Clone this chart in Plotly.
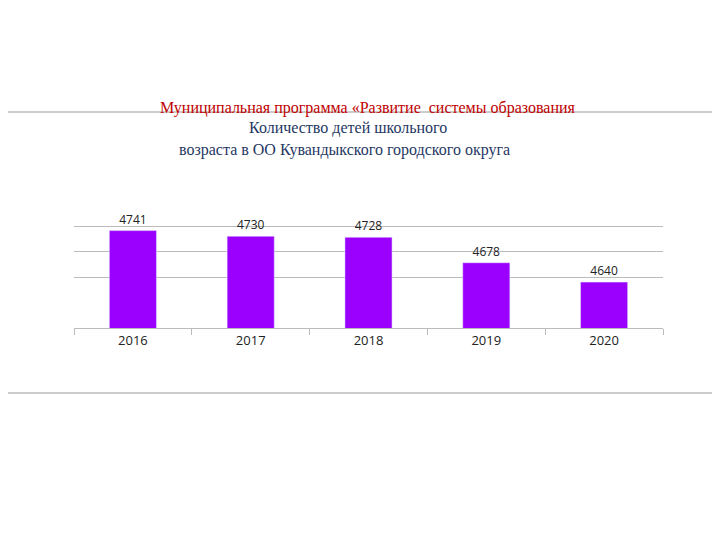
import plotly.graph_objects as go

years = ["2016", "2017", "2018", "2019", "2020"]
values = [4741, 4730, 4728, 4678, 4640]

fig = go.Figure(go.Bar(
    x=years, y=values, marker_color="#9B00FF", width=0.4,
    text=[str(v) for v in values], textposition="outside",
    textfont=dict(family="Open Sans", size=12, color="#222"), cliponaxis=False))

fig.update_layout(
    width=720, height=540, paper_bgcolor="white", plot_bgcolor="white",
    margin=dict(l=66, r=65, t=217, b=220), showlegend=False,
    xaxis=dict(type="category", showline=True, linecolor="#bbb", ticks="outside",
               tickson="boundaries", ticklen=6, tickcolor="#bbb",
               tickfont=dict(family="Open Sans", size=13, color="#222")),
    yaxis=dict(range=[4550, 4752], tickvals=[4650, 4700, 4750], showticklabels=False,
               showgrid=True, gridcolor="#bbb", zeroline=False),
    shapes=[dict(type="line", xref="paper", yref="paper", x0=-0.2, x1=1.2,
                 y0=1 + (217 - 104) / 103, y1=1 + (217 - 104) / 103, line=dict(color="#999", width=1)),
            dict(type="line", xref="paper", yref="paper", x0=-0.2, x1=1.2,
                 y0=-(385 - 320) / 103, y1=-(385 - 320) / 103, line=dict(color="#999", width=1))],
    annotations=[
        dict(text="Муниципальная программа «Развитие  системы образования", x=360, y=100,
             xref="paper", yref="paper", showarrow=False),
        dict(text="Количество детей школьного", x=340, y=120, showarrow=False),
        dict(text="возраста в ОО Кувандыкского городского округа", x=336, y=142, showarrow=False),
    ],
)
# position annotations in pixel terms converted to paper coords
anns = []
plot_w, plot_h = 720 - 66 - 65, 540 - 217 - 220
cols = ["#C00000", "#1F3864", "#1F3864"]
for a, c in zip(fig.layout.annotations, cols):
    anns.append(dict(text=a.text, xref="paper", yref="paper",
                     x=(a.x - 66) / plot_w, y=1 + (217 - a.y) / plot_h,
                     showarrow=False, xanchor="center", yanchor="middle",
                     font=dict(family="Liberation Serif", size=16, color=c)))
fig.update_layout(annotations=anns)
fig.write_html("out.html")
